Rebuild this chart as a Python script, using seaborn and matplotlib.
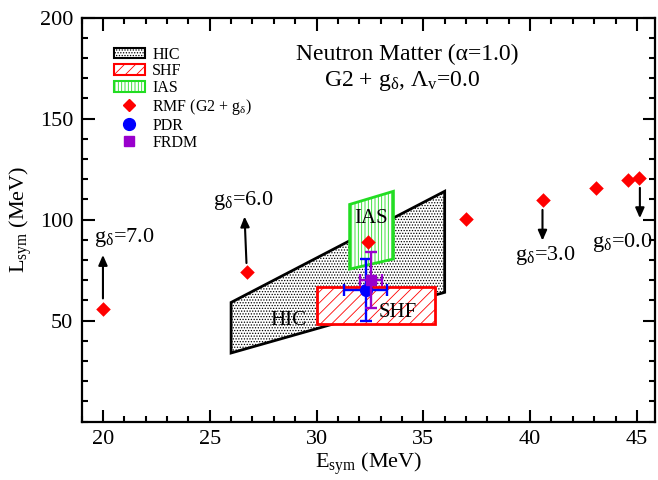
import matplotlib
matplotlib.use('Agg')
import matplotlib.pyplot as plt
import seaborn as sns
import pandas as pd
from matplotlib.patches import Polygon, Rectangle, Patch
from matplotlib.lines import Line2D
from matplotlib.ticker import MultipleLocator

# RMF (G2 + g_delta) points
rmf_e = [20.0, 26.75, 32.4, 37.0, 40.6, 43.1, 44.6, 45.1]
rmf_l = [56.0, 74.0, 89.0, 100.5, 109.5, 115.5, 119.5, 120.5]

# constraint regions
hic_e = [26.0, 36.0, 36.0, 26.0]
hic_l = [59.0, 114.0, 64.0, 34.0]
shf_e = [30.0, 35.55]
shf_l = [48.2, 66.8]
ias_e = [31.55, 33.6, 33.6, 31.55]
ias_l = [107.5, 114.0, 80.5, 75.5]

# PDR and FRDM with errors
pdr_e, pdr_l, pdr_de, pdr_dl = 32.3, 65.2, 1.0, 15.5
frdm_e, frdm_l, frdm_de, frdm_dl = 32.55, 70.1, 0.5, 14.0

# g_delta arrows: (label, tail_e, tail_l, tip_e, tip_l, text_e, text_l)
arrows = [
    ('7.0', 20.0, 61.0, 20.0, 82.5, 20.98, 89.1),
    ('6.0', 26.72, 78.5, 26.63, 101.5, 26.55, 107.3),
    ('3.0', 40.58, 104.8, 40.58, 89.6, 40.70, 80.0),
    ('0.0', 45.14, 115.7, 45.14, 100.7, 44.33, 86.6),
]

sns.set_theme(style='ticks')
plt.rcParams['font.family'] = ['Liberation Serif', 'DejaVu Serif']
plt.rcParams['mathtext.fontset'] = 'custom'
plt.rcParams['mathtext.rm'] = 'Liberation Serif'
plt.rcParams['mathtext.it'] = 'Liberation Serif:italic'
plt.rcParams['mathtext.bf'] = 'Liberation Serif:bold'
plt.rcParams['hatch.linewidth'] = 0.6
plt.rcParams['text.color'] = 'black'
plt.rcParams['axes.labelcolor'] = 'black'
plt.rcParams['xtick.color'] = 'black'
plt.rcParams['ytick.color'] = 'black'

fig = plt.figure(figsize=(6.58, 4.8), dpi=100)
ax = fig.add_axes([0.124, 0.1215, 0.8715, 0.842])

# regions
hic = Polygon(list(zip(hic_e, hic_l)), closed=True, facecolor='white',
              edgecolor='black', hatch='......', lw=2.0, zorder=2)
ax.add_patch(hic)
shf = Rectangle((shf_e[0], shf_l[0]), shf_e[1] - shf_e[0], shf_l[1] - shf_l[0],
                facecolor='white', edgecolor='red', hatch='///', lw=2.0, zorder=3)
ax.add_patch(shf)
ias = Polygon(list(zip(ias_e, ias_l)), closed=True, facecolor='white',
              edgecolor='#22dd22', hatch='|||||', lw=2.0, zorder=3)
ax.add_patch(ias)

ax.text(28.7, 47.9, 'HIC', fontsize=15, ha='center', va='baseline', zorder=4)
ax.text(33.78, 52.0, 'SHF', fontsize=15, ha='center', va='baseline', zorder=4)
ax.text(32.54, 98.2, 'IAS', fontsize=15, ha='center', va='baseline', zorder=4)

# error bars
ax.errorbar(pdr_e, pdr_l, xerr=pdr_de, yerr=pdr_dl, fmt='o', color='blue',
            ms=8.5, elinewidth=1.7, capsize=4, capthick=1.7, zorder=5)
ax.errorbar(frdm_e, frdm_l, xerr=frdm_de, yerr=frdm_dl, fmt='s', color='#9900cc',
            ms=7, elinewidth=1.7, capsize=4, capthick=1.7, zorder=6)

df = pd.DataFrame({'E': rmf_e, 'L': rmf_l})
sns.scatterplot(data=df, x='E', y='L', marker='D', color='red', s=55,
                edgecolor='red', linewidth=0, ax=ax, zorder=7)

for lab, te, tl, he, hl, xe, xl in arrows:
    ax.annotate('', xy=(he, hl), xytext=(te, tl),
                arrowprops=dict(arrowstyle='-|>,head_length=0.5,head_width=0.22',
                                color='black', lw=1.5, mutation_scale=12,
                                shrinkA=0, shrinkB=0), zorder=8)
    ax.text(xe, xl, r'g$_\mathrm{\delta}$=' + lab, fontsize=16,
            ha='center', va='baseline', zorder=8)

ax.text(34.24, 179.1, 'Neutron Matter (α=1.0)', fontsize=17, ha='center', va='baseline')
ax.text(34.02, 166.2, r'G2 + g$_\mathrm{\delta}$, $\mathrm{\Lambda_v}$=0.0',
        fontsize=17, ha='center', va='baseline')

handles = [
    Patch(facecolor='white', edgecolor='black', hatch='......', lw=1.5),
    Patch(facecolor='white', edgecolor='red', hatch='///', lw=1.5),
    Patch(facecolor='white', edgecolor='#22dd22', hatch='|||||', lw=1.5),
    Line2D([], [], marker='D', color='red', ls='none', ms=6.5),
    Line2D([], [], marker='o', color='blue', ls='none', ms=8.5),
    Line2D([], [], marker='s', color='#9900cc', ls='none', ms=7),
]
labels = ['HIC', 'SHF', 'IAS', r'RMF (G2 + g$_\mathrm{\delta}$)', 'PDR', 'FRDM']
ax.legend(handles, labels, loc='upper left', bbox_to_anchor=(0.045, 0.944),
          frameon=False, fontsize=11.5, handlelength=1.95, handleheight=0.65,
          handletextpad=0.45, labelspacing=0.05, borderaxespad=0)

ax.set_xlim(19.0, 45.85)
ax.set_ylim(0, 200)
ax.set_xticks([20, 25, 30, 35, 40, 45])
ax.set_yticks([50, 100, 150, 200])
ax.xaxis.set_minor_locator(MultipleLocator(1))
ax.yaxis.set_minor_locator(MultipleLocator(10))
ax.tick_params(which='both', direction='in', top=True, right=True, width=1.5,
               labelsize=16, colors='black')
ax.tick_params(which='major', length=9, pad=6)
ax.tick_params(which='minor', length=4.5)
for s in ax.spines.values():
    s.set_linewidth(1.6)
    s.set_color('black')

ax.set_xlabel(r'E$_\mathrm{sym}$ (MeV)', fontsize=16, labelpad=1)
ax.set_ylabel(r'L$_\mathrm{sym}$ (MeV)', fontsize=16, labelpad=4)

fig.savefig('out.png', dpi=100)
